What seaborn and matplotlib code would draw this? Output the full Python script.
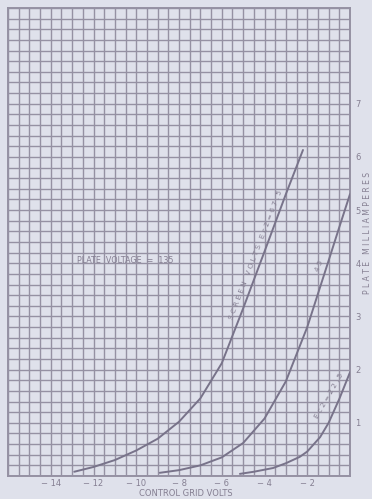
import numpy as np
import pandas as pd
import matplotlib
matplotlib.use("Agg")
import matplotlib.pyplot as plt
from matplotlib.ticker import MultipleLocator
import seaborn as sns

# ---- data ----
grid_volts_675 = [-12.9, -12.0, -11.0, -10.0, -9.0, -8.0, -7.0, -6.0, -5.0, -4.0, -3.0, -2.2]
plate_ma_675 = [0.08, 0.17, 0.30, 0.48, 0.70, 1.02, 1.46, 2.12, 3.15, 4.22, 5.30, 6.13]

grid_volts_45 = [-8.9, -8.0, -7.0, -6.0, -5.0, -4.0, -3.0, -2.0, -1.0, -0.5, 0.0]
plate_ma_45 = [0.06, 0.11, 0.20, 0.35, 0.62, 1.08, 1.78, 2.80, 4.05, 4.68, 5.30]

grid_volts_225 = [-5.15, -4.5, -3.6, -3.0, -2.35, -2.0, -1.4, -1.0, -0.5, 0.0]
plate_ma_225 = [0.04, 0.08, 0.15, 0.24, 0.36, 0.46, 0.73, 1.00, 1.45, 1.95]

x_tick_values = [-14, -12, -10, -8, -6, -4, -2]
x_tick_labels = ["− 14", "− 12", "− 10", "− 8", "− 6", "− 4", "− 2"]
y_tick_values = [1, 2, 3, 4, 5, 6, 7]
y_tick_labels = ["1", "2", "3", "4", "5", "6", "7"]

df = pd.concat([
    pd.DataFrame({"volts": grid_volts_675, "ma": plate_ma_675, "curve": "67.5"}),
    pd.DataFrame({"volts": grid_volts_45, "ma": plate_ma_45, "curve": "45"}),
    pd.DataFrame({"volts": grid_volts_225, "ma": plate_ma_225, "curve": "22.5"}),
])

sns.set_style("white")
plt.rcParams["font.family"] = ["DejaVu Sans"]

bg = "#dfe1eb"
ink = "#9591a3"
curve_col = "#78738a"
text_col = "#857f92"

fig = plt.figure(figsize=(3.72, 4.99), dpi=100, facecolor=bg)
ax = fig.add_axes([8 / 372, 1 - 476 / 499, 342 / 372, 468 / 499])
ax.set_facecolor(bg)

sns.lineplot(data=df, x="volts", y="ma", hue="curve", units="curve",
             estimator=None, sort=False,
             palette={"67.5": curve_col, "45": curve_col, "22.5": curve_col},
             linewidth=1.4, legend=False, ax=ax)
for ln in ax.lines:
    ln.set_solid_joinstyle("round")
    ln.set_zorder(3)

ax.set_xlim(-16, 0)
ax.set_ylim(0, 8.8)

ax.xaxis.set_minor_locator(MultipleLocator(0.5))
ax.yaxis.set_minor_locator(MultipleLocator(0.2))
ax.set_xticks(x_tick_values)
ax.set_xticklabels(x_tick_labels)
ax.set_yticks(y_tick_values)
ax.set_yticklabels(y_tick_labels)
ax.yaxis.tick_right()
ax.tick_params(which="both", length=0)
ax.tick_params(axis="x", pad=2, labelsize=6, labelcolor=text_col)
ax.tick_params(axis="y", pad=4, labelsize=6, labelcolor=text_col)
ax.grid(which="both", color=ink, linewidth=1.0)
ax.set_axisbelow(True)
for s in ax.spines.values():
    s.set_color(ink)
    s.set_linewidth(1.4)

ax.set_xlabel("")
ax.set_ylabel("")
fig.text(186 / 372, 1 - 494 / 499, "CONTROL GRID VOLTS", ha="center", va="center",
         fontsize=6, color=text_col)
fig.text(368 / 372, 1 - 233 / 499, "P L A T E   M I L L I A M P E R E S", ha="center",
         va="center", rotation=90, fontsize=5.5, color=text_col)

ax.text(-12.75, 4.06, "PLATE  VOLTAGE  =  135", fontsize=5.8, color=text_col,
        ha="left", va="center")
ax.text(-4.4, 4.15, "S C R E E N   V O L T S   E c 2 = 6 7 . 5", fontsize=5.2,
        color=text_col, rotation=69, ha="center", va="center", rotation_mode="anchor")
ax.text(-1.45, 3.95, "4 5", fontsize=5.2, color=text_col,
        rotation=68, ha="center", va="center", rotation_mode="anchor")
ax.text(-0.98, 1.5, "E c 2 = 2 2 . 5", fontsize=5.2, color=text_col,
        rotation=60, ha="center", va="center", rotation_mode="anchor")

fig.savefig("out.png", dpi=100, facecolor=bg)
